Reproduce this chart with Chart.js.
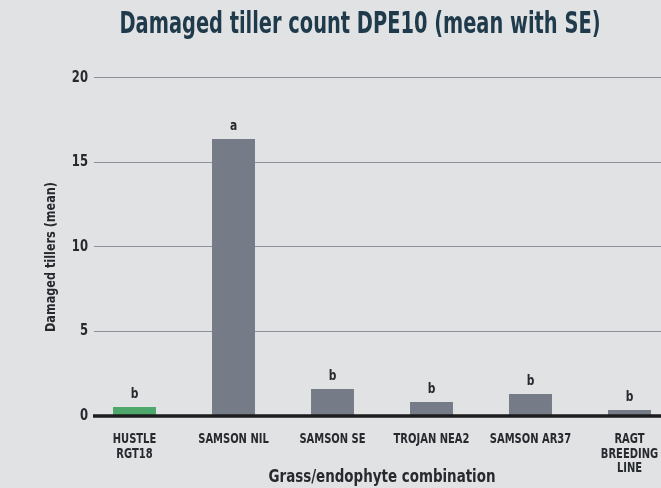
<!DOCTYPE html>
<html>
<head>
<meta charset="utf-8">
<script src="https://cdn.jsdelivr.net/npm/chart.js@4"></script>
<style>
  html, body { margin: 0; padding: 0; background: #e1e2e4; overflow: hidden; }
  #wrap { width: 720px; height: 488px; }
</style>
</head>
<body>
<div id="wrap"><canvas id="barChart" width="720" height="488"></canvas></div>
<script>
var categories = [["HUSTLE", "RGT18"], "SAMSON NIL", "SAMSON SE", "TROJAN NEA2", "SAMSON AR37", ["RAGT", "BREEDING", "LINE"]];
var tillers = [0.47, 16.33, 1.54, 0.77, 1.24, 0.3];
var groups = ["b", "a", "b", "b", "b", "b"];
var barColours = ["#4ea86b", "#767c87", "#767c87", "#767c87", "#767c87", "#767c87"];
var yTicks = [0, 5, 10, 15, 20];
var chartTitle = "Damaged tiller count DPE10 (mean with SE)";
var xTitle = "Grass/endophyte combination";
var yTitle = "Damaged tillers (mean)";

var FONT = "'DejaVu Sans Condensed', 'Liberation Sans', sans-serif";
Chart.defaults.font.family = FONT;
Chart.defaults.font.weight = "bold";
Chart.defaults.color = "#26292e";

// the original uses a very narrow face, so squeeze text sideways
function narrowText(ctx, text, x, y, size, squeeze, rotate) {
    ctx.save();
    ctx.font = "bold " + size + "px " + FONT;
    ctx.translate(x, y);
    if (rotate) ctx.rotate(rotate);
    ctx.scale(squeeze, 1);
    ctx.fillText(text, 0, 0);
    ctx.restore();
}

function fitSqueeze(ctx, text, size, width) {
    ctx.save();
    ctx.font = "bold " + size + "px " + FONT;
    var w = ctx.measureText(text).width;
    ctx.restore();
    return width / w;
}

var decorations = {
    id: 'decorations',
    beforeDatasetsDraw: function(chart) {
        var ctx = chart.ctx, y = chart.scales.y, area = chart.chartArea;
        ctx.save();
        ctx.strokeStyle = "#8d9199";
        ctx.lineWidth = 1;
        yTicks.forEach(function(v) {
            if (v === 0) return;
            var py = Math.round(y.getPixelForValue(v)) + 0.5;
            ctx.beginPath();
            ctx.moveTo(area.left + 9, py);
            ctx.lineTo(chart.width, py);
            ctx.stroke();
        });
        ctx.restore();
    },
    afterDatasetsDraw: function(chart) {
        var ctx = chart.ctx, x = chart.scales.x, y = chart.scales.y, area = chart.chartArea;
        ctx.save();
        ctx.strokeStyle = "#1c1c1e";
        ctx.lineWidth = 3.5;
        var py = y.getPixelForValue(0) + 1;
        ctx.beginPath();
        ctx.moveTo(area.left + 8, py);
        ctx.lineTo(chart.width, py);
        ctx.stroke();

        ctx.fillStyle = "#26292e";

        // y tick labels, right aligned just inside the plot edge
        ctx.textAlign = "right";
        ctx.textBaseline = "middle";
        yTicks.forEach(function(v) {
            narrowText(ctx, String(v), area.left + 3, y.getPixelForValue(v) + 1, 15, 0.86);
        });

        ctx.textAlign = "center";

        // group letters above the bars
        ctx.textBaseline = "alphabetic";
        var meta = chart.getDatasetMeta(0);
        meta.data.forEach(function(bar, i) {
            narrowText(ctx, groups[i], bar.x, bar.y - 9, 14, 0.85);
        });

        // category labels
        categories.forEach(function(lab, i) {
            var lines = Array.isArray(lab) ? lab : [lab];
            var cx = x.getPixelForValue(i);
            lines.forEach(function(t, j) {
                narrowText(ctx, t, cx, py + 27 + j * 14.5, 14, 0.79);
            });
        });

        // axis titles
        narrowText(ctx, xTitle, (area.left + area.right) / 2, 482, 17,
            fitSqueeze(ctx, xTitle, 17, 227));
        ctx.textBaseline = "middle";
        narrowText(ctx, yTitle, 51, 257, 14.5,
            fitSqueeze(ctx, yTitle, 14.5, 150), -Math.PI / 2);

        // chart title
        ctx.fillStyle = "#1f3a4b";
        ctx.textBaseline = "alphabetic";
        narrowText(ctx, chartTitle, 360, 33, 30,
            fitSqueeze(ctx, chartTitle, 30, 481));
        ctx.restore();
    }
};

var chart = new Chart(document.getElementById("barChart"), {
    type: 'bar',
    data: {
        labels: categories,
        datasets: [{
            data: tillers,
            backgroundColor: barColours,
            categoryPercentage: 1,
            barPercentage: 0.434
        }]
    },
    options: {
        responsive: false,
        animation: false,
        layout: { padding: { top: 77, right: 41, left: 0, bottom: 0 } },
        plugins: {
            legend: { display: false },
            tooltip: { enabled: false },
            title: { display: false }
        },
        scales: {
            x: {
                grid: { display: false, drawTicks: false },
                border: { display: false },
                ticks: { display: false },
                afterFit: function(scale) { scale.height = 73; }
            },
            y: {
                min: 0,
                max: 20,
                grid: { display: false, drawTicks: false },
                border: { display: false },
                ticks: { display: false, stepSize: 5 },
                afterFit: function(scale) { scale.width = 85; }
            }
        }
    },
    plugins: [decorations]
});
</script>
</body>
</html>
